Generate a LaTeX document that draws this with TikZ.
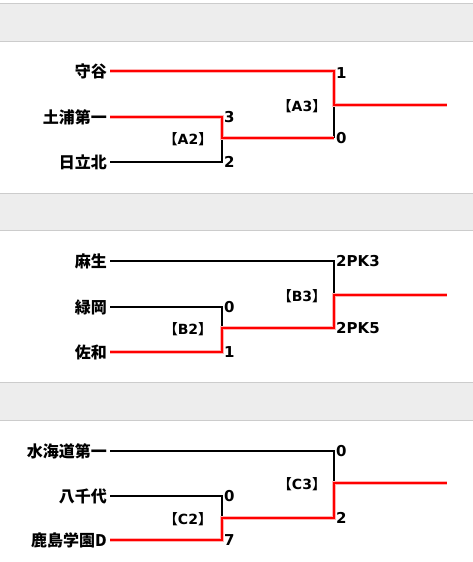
\documentclass[tikz,border=0pt]{standalone}
\usepackage{fontspec}
\setmainfont{DejaVu Sans}
\newfontfamily\jpfont{Noto Sans CJK JP}
\usetikzlibrary{positioning}

\tikzset{
  band/.style={fill=black!7, draw=none},
  bandline/.style={draw=black!20, line width=1pt},
  team/.style={anchor=east, inner sep=3pt, font=\jpfont\bfseries\fontsize{16}{16}\selectfont},
  score/.style={anchor=west, inner sep=2pt, font=\bfseries\fontsize{15}{15}\selectfont},
  game/.style={inner sep=0pt, font=\bfseries\fontsize{14}{14}\selectfont},
  lose/.style={black, line width=1.8pt},
  win/.style={red, line width=2.8pt, line join=miter,
              preaction={draw=red!30, line width=4pt}},
}
\newcommand{\gamelabel}[1]{{\jpfont 【}#1{\jpfont 】}}

\begin{document}
\begin{tikzpicture}[x=1pt, y=-1pt]
  \useasboundingbox (0,0) rectangle (473,562);

  %--- Block A
  \fill[band] (0,3) rectangle (473,41);
  \draw[bandline] (0,3) -- (473,3) (0,41) -- (473,41);

  \node[team] (moriya)    at (110,71)  {守谷};
  \node[team] (tsuchiura) at (110,117) {土浦第一};
  \node[team] (hitachi)   at (110,162) {日立北};

  \coordinate (a2t) at (222,117);
  \coordinate (a2)  at (222,138);
  \coordinate (a2b) at (222,162);
  \coordinate (a3t) at (334,71);
  \coordinate (a3)  at (334,105);
  \coordinate (a3b) at (334,138);
  \coordinate (a3out) at (447,105);

  \draw[lose] (hitachi.east) -- (a2b) -- (a2);
  \draw[lose] (a3b) -- (a3);
  \draw[win] (tsuchiura.east) -- (a2t) -- (a2) -- (a3b);
  \draw[win] (moriya.east) -- (a3t) -- (a3) -- (a3out);

  \node[score] at ([yshift=-2pt]a3t) {1};
  \node[score] at (a2t) {3};
  \node[score] at (a3b) {0};
  \node[score] at (a2b) {2};
  \node[game] (gA2) at (188,139) {\gamelabel{A2}};
  \node[game] (gA3) at (302,106) {\gamelabel{A3}};

  %--- Block B
  \fill[band] (0,193) rectangle (473,230);
  \draw[bandline] (0,193) -- (473,193) (0,230) -- (473,230);

  \node[team] (aso)        at (110,261) {麻生};
  \node[team] (midorioka)  at (110,307) {緑岡};
  \node[team] (sawa)       at (110,352) {佐和};

  \coordinate (b2t) at (222,307);
  \coordinate (b2)  at (222,328);
  \coordinate (b2b) at (222,352);
  \coordinate (b3t) at (334,261);
  \coordinate (b3)  at (334,295);
  \coordinate (b3b) at (334,328);
  \coordinate (b3out) at (447,295);

  \draw[lose] (aso.east) -- (b3t) -- (b3);
  \draw[lose] (midorioka.east) -- (b2t) -- (b2);
  \draw[win] (sawa.east) -- (b2b) -- (b2) -- (b3b) -- (b3) -- (b3out);

  \node[score] at (b3t) {2PK3};
  \node[score] at (b2t) {0};
  \node[score] at (b3b) {2PK5};
  \node[score] at (b2b) {1};
  \node[game] (gB2) at (188,329) {\gamelabel{B2}};
  \node[game] (gB3) at (302,296) {\gamelabel{B3}};

  %--- Block C
  \fill[band] (0,382) rectangle (473,420);
  \draw[bandline] (0,382) -- (473,382) (0,420) -- (473,420);

  \node[team] (mitsukaido) at (110,451) {水海道第一};
  \node[team] (yachiyo)    at (110,496) {八千代};
  \node[team] (kashima)    at (110,540) {鹿島学園D};

  \coordinate (c2t) at (222,496);
  \coordinate (c2)  at (222,518);
  \coordinate (c2b) at (222,540);
  \coordinate (c3t) at (334,451);
  \coordinate (c3)  at (334,483);
  \coordinate (c3b) at (334,518);
  \coordinate (c3out) at (447,483);

  \draw[lose] (mitsukaido.east) -- (c3t) -- (c3);
  \draw[lose] (yachiyo.east) -- (c2t) -- (c2);
  \draw[win] (kashima.east) -- (c2b) -- (c2) -- (c3b) -- (c3) -- (c3out);

  \node[score] at (c3t) {0};
  \node[score] at (c2t) {0};
  \node[score] at (c3b) {2};
  \node[score] at (c2b) {7};
  \node[game] (gC2) at (188,519) {\gamelabel{C2}};
  \node[game] (gC3) at (302,484) {\gamelabel{C3}};

\end{tikzpicture}
\end{document}
